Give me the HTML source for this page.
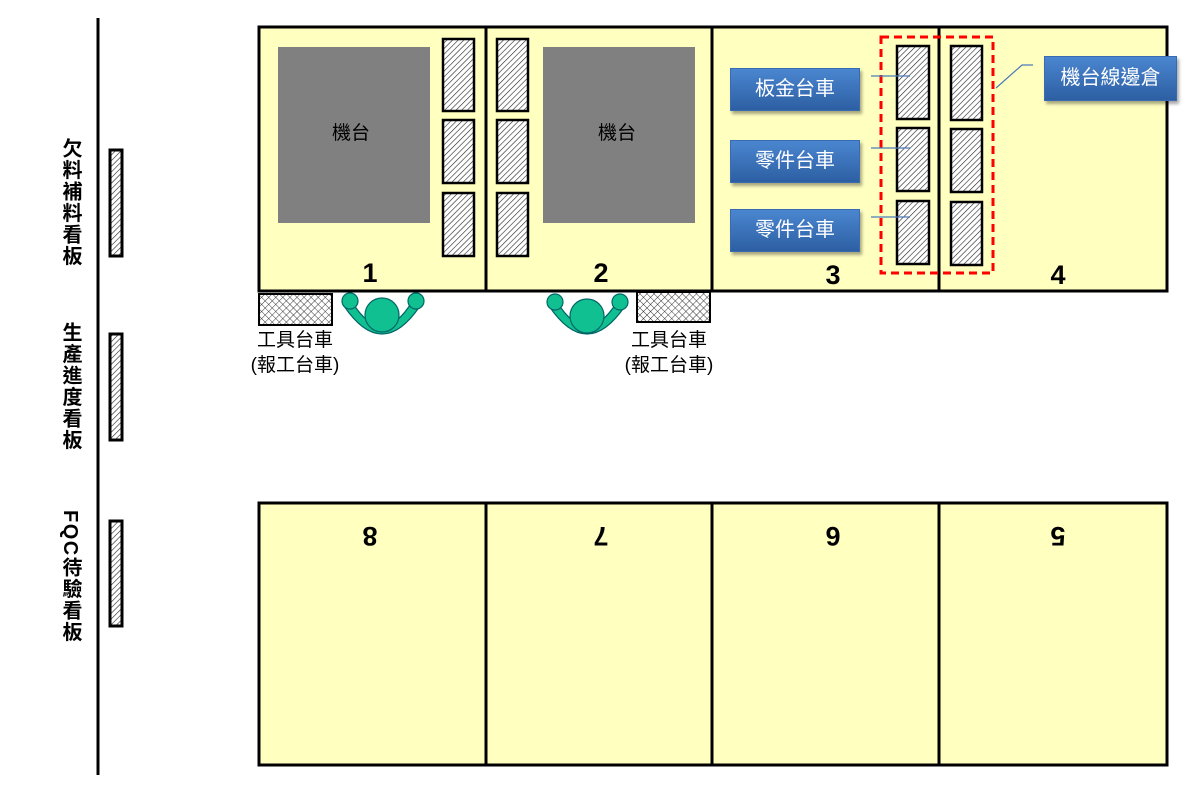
<!DOCTYPE html>
<html><head><meta charset="utf-8"><style>
body{margin:0;width:1200px;height:803px;background:#fff;position:relative;overflow:hidden;font-family:"Liberation Sans","Noto Sans CJK TC",sans-serif}
.v{position:absolute;writing-mode:vertical-rl;text-orientation:mixed;font-weight:bold;font-size:20px;line-height:22px;color:#000;letter-spacing:1.5px}
.t{position:absolute;font-size:19px;color:#000;text-align:center;line-height:25px;white-space:nowrap}
.b{position:absolute;background:linear-gradient(#4a86d0,#2d5fa3);color:#fff;font-size:20px;text-align:center;box-shadow:2px 3px 3px rgba(0,0,0,.35);border:1px solid #3a6bb0;box-sizing:border-box}
</style></head><body>
<svg width="1200" height="803" style="position:absolute;left:0;top:0">
<defs>
<pattern id="h" width="4" height="4" patternUnits="userSpaceOnUse" patternTransform="rotate(45)"><rect width="4" height="4" fill="#fff"/><line x1="0" y1="0" x2="0" y2="4" stroke="#222" stroke-width="1.2"/></pattern>
<pattern id="x" width="5" height="5" patternUnits="userSpaceOnUse" patternTransform="rotate(45)"><rect width="5" height="5" fill="#fff"/><line x1="0" y1="0" x2="0" y2="5" stroke="#222" stroke-width="0.9"/><line x1="0" y1="0" x2="5" y2="0" stroke="#222" stroke-width="0.9"/></pattern>
</defs>
<line x1="98" y1="18" x2="98" y2="775" stroke="#000" stroke-width="3"/>
<g fill="url(#h)" stroke="#000" stroke-width="3">
<rect x="110" y="150" width="12" height="106"/><rect x="110" y="334" width="12" height="106"/><rect x="110" y="521" width="12" height="105"/>
</g>
<g stroke="#000" stroke-width="3" fill="#ffffc0">
<rect x="259" y="27" width="908" height="264"/>
<rect x="259" y="503" width="908" height="262"/>
</g>
<g stroke="#000" stroke-width="3">
<line x1="486" y1="27" x2="486" y2="291"/><line x1="712" y1="27" x2="712" y2="291"/><line x1="939" y1="27" x2="939" y2="291"/>
<line x1="486" y1="503" x2="486" y2="765"/><line x1="712" y1="503" x2="712" y2="765"/><line x1="939" y1="503" x2="939" y2="765"/>
</g>
<rect x="278" y="47" width="152" height="176" fill="#808080"/>
<rect x="543" y="47" width="152" height="176" fill="#808080"/>
<g fill="url(#h)" stroke="#000" stroke-width="2.5">
<rect x="443" y="39" width="31" height="72"/><rect x="443" y="120" width="31" height="63"/><rect x="443" y="193" width="31" height="63"/>
<rect x="497" y="39" width="31" height="72"/><rect x="497" y="120" width="31" height="63"/><rect x="497" y="193" width="31" height="63"/>
<rect x="897" y="46" width="32" height="73"/><rect x="897" y="128" width="32" height="63"/><rect x="897" y="201" width="32" height="63"/>
<rect x="951" y="46" width="31" height="74"/><rect x="951" y="129" width="31" height="63"/><rect x="951" y="202" width="31" height="63"/>
</g>
<rect x="881" y="37" width="112" height="236" fill="none" stroke="#f00" stroke-width="3" stroke-dasharray="8,5"/>
<g stroke="#4a7ab8" stroke-width="1.2" fill="none">
<line x1="871" y1="76" x2="910" y2="76"/><line x1="871" y1="148" x2="910" y2="148"/><line x1="871" y1="217" x2="910" y2="217"/>
<polyline points="996,88 1022,65 1033,65"/>
</g>
<g fill="url(#x)" stroke="#000" stroke-width="2">
<rect x="259" y="294" width="73" height="31"/><rect x="637" y="292" width="73" height="30"/>
</g>
<g fill="#10c090" stroke="#066" stroke-width="1.2">
<path d="M352,302 Q382,350 412,302 L420,306 Q382,362 344,306Z"/>
<circle cx="382" cy="315" r="17"/><circle cx="350" cy="301" r="8"/><circle cx="416" cy="301" r="8"/>
<path d="M557,302 Q587,350 617,302 L625,306 Q587,362 549,306Z"/>
<circle cx="587" cy="316" r="17"/><circle cx="555" cy="302" r="8"/><circle cx="620" cy="302" r="8"/>
</g>
<g font-family="Liberation Sans" font-weight="bold" font-size="27" text-anchor="middle">
<text x="370" y="282">1</text><text x="601" y="282">2</text><text x="833" y="284">3</text><text x="1058" y="284">4</text>
<text transform="translate(370,527) rotate(180)">8</text>
<text transform="translate(601,527) rotate(180)">7</text>
<text transform="translate(833,527) rotate(180)">6</text>
<text transform="translate(1058,527) rotate(180)">5</text>
</g>
<g font-family="Liberation Sans,Noto Sans CJK TC,sans-serif" font-size="19" text-anchor="middle">
<text x="351" y="139">機台</text><text x="617" y="139">機台</text>
</g>
</svg>
<div class="v" style="left:59px;top:138px">欠料補料看板</div>
<div class="v" style="left:59px;top:322px">生產進度看板</div>
<div class="v" style="left:59px;top:510px">FQC待驗看板</div>
<div class="t" style="left:235px;top:328px;width:120px">工具台車<br>(報工台車)</div>
<div class="t" style="left:609px;top:328px;width:120px">工具台車<br>(報工台車)</div>
<div class="b" style="left:730px;top:68px;width:130px;height:43px;line-height:41px">板金台車</div>
<div class="b" style="left:730px;top:140px;width:130px;height:43px;line-height:41px">零件台車</div>
<div class="b" style="left:730px;top:209px;width:130px;height:43px;line-height:41px">零件台車</div>
<div class="b" style="left:1044px;top:56px;width:133px;height:45px;line-height:43px">機台線邊倉</div>
</body></html>
